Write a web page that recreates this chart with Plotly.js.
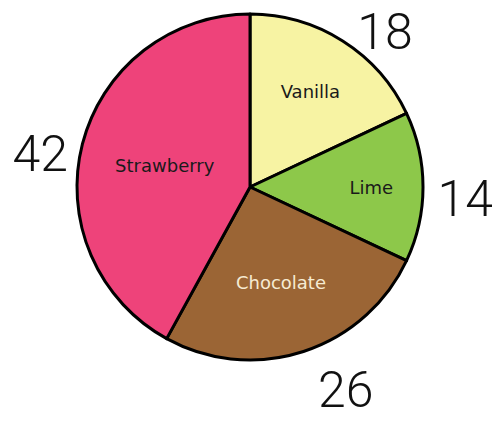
<!DOCTYPE html>
<html>
<head>
<meta charset="utf-8">
<script src="https://cdn.plot.ly/plotly-3.0.1.min.js"></script>
<style>html,body{margin:0;padding:0;background:#fff;}</style>
</head>
<body>
<div id="chart" style="width:492px;height:423px;"></div>
<script>
const flavors = ["Vanilla", "Lime", "Chocolate", "Strawberry"];
const counts = [18, 14, 26, 42];
const sliceColors = ["#F7F3A3", "#8DC84A", "#9B6535", "#EE437A"];
const labelColors = ["#1a1a1a", "#1a1a1a", "#F6EBD2", "#1a1a1a"];

const inner = {
  type: "pie",
  labels: flavors,
  values: counts,
  sort: false,
  direction: "clockwise",
  rotation: 0,
  domain: {x: [0.1565, 0.8598], y: [0.1489, 0.9669]},
  marker: {colors: sliceColors, line: {color: "#000", width: 3}},
  textinfo: "label",
  textposition: "inside",
  insidetextorientation: "horizontal",
  insidetextfont: {family: "DejaVu Sans, Noto Sans, sans-serif", size: 18, color: labelColors},
  hoverinfo: "none",
  showlegend: false
};

const outer = {
  type: "pie",
  labels: flavors,
  values: counts,
  sort: false,
  direction: "clockwise",
  rotation: 0,
  domain: {x: [0.1565, 0.8598], y: [0.1206, 0.9385]},
  marker: {colors: ["rgba(0,0,0,0)","rgba(0,0,0,0)","rgba(0,0,0,0)","rgba(0,0,0,0)"], line: {width: 0}},
  textinfo: "value",
  textposition: "outside",
  outsidetextfont: {family: "Roboto, Liberation Sans, sans-serif", size: 50, color: "#111", weight: 300},
  hoverinfo: "none",
  showlegend: false
};

Plotly.newPlot("chart", [inner, outer], {
  width: 492,
  height: 423,
  margin: {l: 0, r: 0, t: 0, b: 0},
  paper_bgcolor: "#fff",
  showlegend: false
}, {displayModeBar: false, staticPlot: true});
</script>
</body>
</html>
